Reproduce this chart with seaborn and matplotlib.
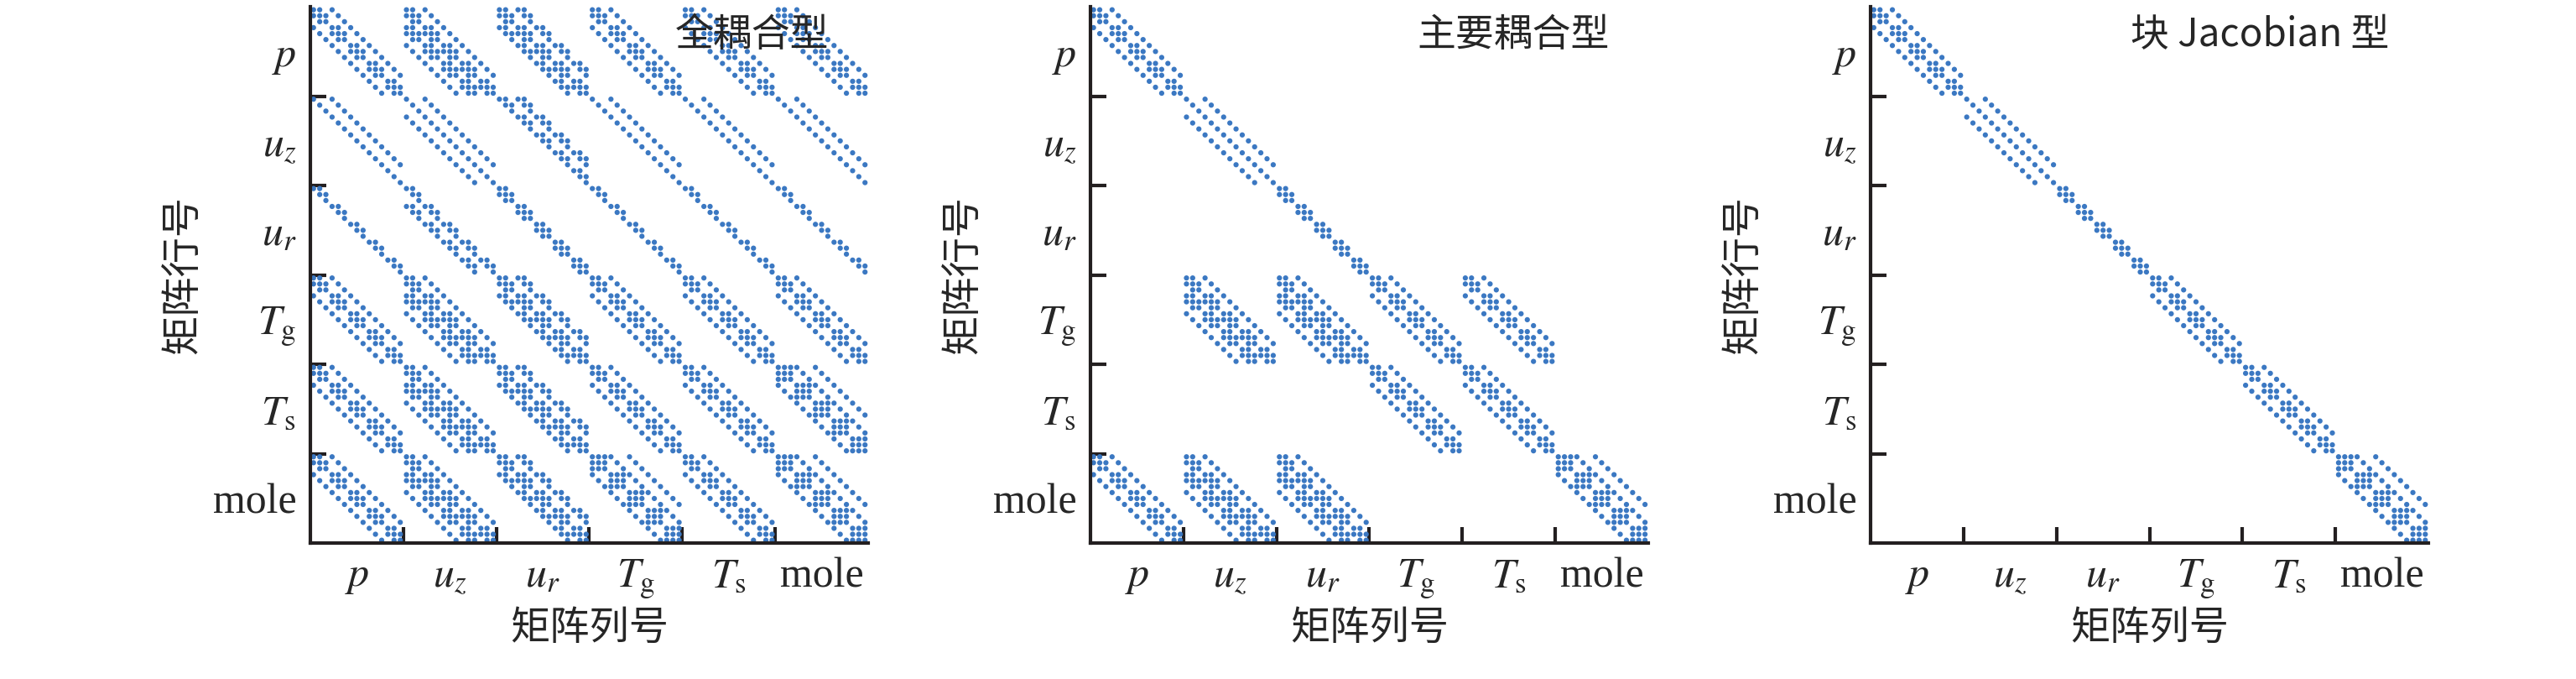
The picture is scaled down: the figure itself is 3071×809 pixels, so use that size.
import numpy as np
import pandas as pd
import matplotlib
matplotlib.use("Agg")
import matplotlib.pyplot as plt
import seaborn as sns

sns.set_theme(style="white")
plt.rcParams['font.family'] = ['Liberation Serif', 'Noto Sans CJK SC', 'DejaVu Sans']
plt.rcParams['mathtext.fontset'] = 'stix'

variables = ["$p$", "$u_z$", "$u_r$", "$T_\\mathrm{g}$", "$T_\\mathrm{s}$", "mole"]
titles = ["全耦合型", "主要耦合型", "块 Jacobian 型"]
xlabel = "矩阵列号"
ylabel = "矩阵行号"
block_n = 15
chunk = 3

# block stencil types: (offset, kind)
patterns = {
    "S": [(0, "T"), (3, "D"), (-3, "D")],
    "W": [(0, "T"), (-3, "T"), (3, "D"), (-6, "D")],
    "R": [(0, "T"), (3, "Z"), (-3, "Z")],
    "U": [(0, "D"), (3, "D")],
    "U3": [(0, "D"), (3, "D"), (-3, "D")],
    "Z2": [(0, "Z"), (3, "Z")],
    "Z1": [(0, "Z")],
    "Zm": [(0, "Z"), (-3, "Z")],
    "T": [(0, "T")],
    "M": [(0, "F"), (3, "D"), (-3, "D"), (6, "D")],
    "0": [],
}

grid_full = [
    ["S", "W", "R", "S", "S", "S"],
    ["U", "U3", "Z2", "U", "U", "U"],
    ["Z1", "Zm", "T", "Z1", "Z1", "Z1"],
    ["S", "W", "R", "S", "S", "S"],
    ["S", "W", "R", "S", "S", "M"],
    ["S", "W", "R", "M", "S", "M"],
]
grid_major = [
    ["S", "0", "0", "0", "0", "0"],
    ["0", "U3", "0", "0", "0", "0"],
    ["0", "0", "T", "0", "0", "0"],
    ["0", "W", "W", "S", "S", "0"],
    ["0", "0", "0", "S", "S", "0"],
    ["S", "W", "W", "0", "0", "M"],
]
grid_block = [
    ["S", "0", "0", "0", "0", "0"],
    ["0", "U3", "0", "0", "0", "0"],
    ["0", "0", "T", "0", "0", "0"],
    ["0", "0", "0", "S", "0", "0"],
    ["0", "0", "0", "0", "S", "0"],
    ["0", "0", "0", "0", "0", "M"],
]


def block_entries(code):
    out = set()
    for off, kind in patterns[code]:
        for i in range(block_n):
            c0 = (i // chunk) * chunk
            if kind == "D":
                js = [i]
            elif kind == "T":
                js = [j for j in (i - 1, i, i + 1) if c0 <= j < c0 + chunk]
            elif kind == "Z":
                js = [j for j in (i, i + 1) if c0 <= j < c0 + chunk]
            else:
                js = list(range(c0, c0 + chunk))
            for j in js:
                jj = j + off
                if 0 <= jj < block_n:
                    out.add((i, jj))
    return out


def frame(grid):
    rows, cols = [], []
    for bi, r in enumerate(grid):
        for bj, code in enumerate(r):
            for i, j in block_entries(code):
                rows.append(bi * block_n + i + 0.5)
                cols.append(bj * block_n + j + 0.5)
    return pd.DataFrame({"row": rows, "col": cols})


fig = plt.figure(figsize=(30.71, 8.09), dpi=100)
lefts = [0.1205, 0.4233, 0.7262]
N = block_n * 6
for k, grid in enumerate([grid_full, grid_major, grid_block]):
    ax = fig.add_axes([lefts[k], 0.2, 0.2165, 0.79])
    df = frame(grid)
    sns.scatterplot(data=df, x="col", y="row", ax=ax, s=20, marker="o",
                    color="#3b78c2", linewidth=0, edgecolor="none")
    ax.set_xlim(0, N)
    ax.set_ylim(N, 0)
    for s in ["top", "right"]:
        ax.spines[s].set_visible(False)
    for s in ["left", "bottom"]:
        ax.spines[s].set_linewidth(3)
        ax.spines[s].set_color("#231f20")
    bounds = np.arange(1, 6) * block_n
    centers = np.arange(6) * block_n + block_n / 2
    ax.set_xticks(bounds)
    ax.set_yticks(bounds)
    ax.set_xticklabels([])
    ax.set_yticklabels([])
    ax.tick_params(axis="both", which="major", direction="in", length=14, width=3,
                   color="#231f20", bottom=True, left=True)
    ax.set_xticks(centers, minor=True)
    ax.set_yticks(centers, minor=True)
    ax.set_xticklabels(variables, minor=True, fontsize=36)
    ax.set_yticklabels(variables, minor=True, fontsize=36)
    ax.tick_params(axis="both", which="minor", length=0, pad=12, bottom=True, left=True)
    ax.set_xlabel(xlabel, fontsize=34, family=["Noto Sans CJK SC"], labelpad=6)
    ax.set_ylabel(ylabel, fontsize=34, family=["Noto Sans CJK SC"], labelpad=8)
    ax.text(0.93, 0.985, titles[k], transform=ax.transAxes, ha="right", va="top",
            fontsize=33, family=["Noto Sans CJK SC", "Liberation Serif"])
    ax.set_facecolor("white")

fig.savefig("out.png", dpi=100, facecolor="white")
